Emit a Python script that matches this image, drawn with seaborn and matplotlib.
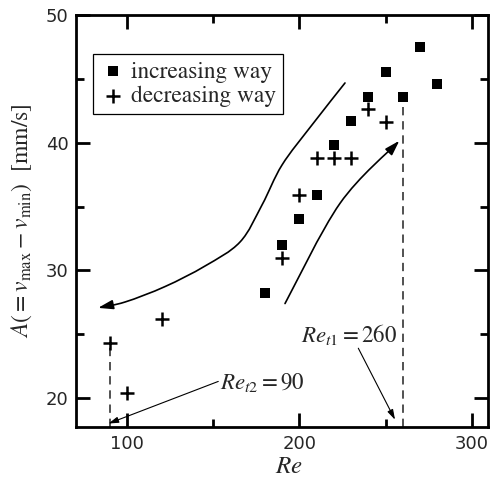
import matplotlib
matplotlib.use('Agg')
import matplotlib.pyplot as plt
import seaborn as sns
import numpy as np
from matplotlib.path import Path
from matplotlib.patches import FancyArrowPatch
from matplotlib.ticker import MultipleLocator

# ---- data ----
re_inc = [180, 190, 200, 210, 220, 230, 240, 250, 260, 270, 280]
a_inc = [28.2, 32.0, 34.0, 35.9, 39.8, 41.7, 43.6, 45.5, 43.6, 47.5, 44.6]
re_dec = [90, 100, 120, 190, 200, 210, 220, 230, 240, 250]
a_dec = [24.3, 20.4, 26.2, 31.0, 35.9, 38.8, 38.8, 38.8, 42.6, 41.6]

re_t1 = 260
re_t2 = 90
dash_top_t1 = 43.2
dash_top_t2 = 24.0

# guide curves (hysteresis direction arrows)
upper_x = [226.38, 207.25, 189.86, 178.26, 165.51, 145.22, 122.03, 98.84, 83.19]
upper_y = [44.675, 41.39, 38.25, 35.12, 32.22, 30.34, 28.73, 27.52, 27.06]
lower_x = [191.6, 223.5, 257.9]
lower_y = [27.4, 35.25, 40.15]

sns.set_style('ticks')
plt.rcParams['font.family'] = ['DejaVu Sans']
plt.rcParams['mathtext.fontset'] = 'stix'

fig = plt.figure(figsize=(4.9, 4.82), dpi=100)
ax = fig.add_axes([0.1551, 0.1141, 0.8408, 0.8548])

sns.scatterplot(x=re_inc, y=a_inc, marker='s', s=52, color='black',
                edgecolor='black', linewidth=0, ax=ax, label='increasing way', zorder=5)
sns.scatterplot(x=re_dec, y=a_dec, marker='+', s=110, color='black',
                linewidth=1.8, ax=ax, label='decreasing way', zorder=5)

ax.set_xlim(70.4, 309.3)
ax.set_ylim(17.73, 50)

# dashed threshold lines
ax.plot([re_t1, re_t1], [17.73, dash_top_t1], ls=(0, (5, 3.5)), color='#333333', lw=1.2)
ax.plot([re_t2, re_t2], [17.73, dash_top_t2], ls=(0, (5, 3.5)), color='#333333', lw=1.2)


def smooth_path(xs, ys):
    pts = np.column_stack([xs, ys]).astype(float)
    n = len(pts)
    verts = [pts[0]]
    codes = [Path.MOVETO]
    for i in range(n - 1):
        p0 = pts[max(i - 1, 0)]
        p1 = pts[i]
        p2 = pts[i + 1]
        p3 = pts[min(i + 2, n - 1)]
        c1 = p1 + (p2 - p0) / 6.0
        c2 = p2 - (p3 - p1) / 6.0
        verts += [c1, c2, p2]
        codes += [Path.CURVE4] * 3
    return Path(verts, codes)


style = '-|>,head_length=0.9,head_width=0.28'
for xs, ys in [(upper_x, upper_y), (lower_x, lower_y)]:
    arr = FancyArrowPatch(path=smooth_path(xs, ys), arrowstyle=style,
                          mutation_scale=10, lw=1.2, color='black',
                          transform=ax.transData)
    ax.add_patch(arr)

# annotations
ax.annotate('', xy=(255.4, 18.3), xytext=(234.1, 23.9),
            arrowprops=dict(arrowstyle='-|>,head_length=0.6,head_width=0.18',
                            mutation_scale=10, lw=0.8, color='black',
                            shrinkA=0, shrinkB=0))
ax.annotate('', xy=(89.2, 18.0), xytext=(152.9, 21.3),
            arrowprops=dict(arrowstyle='-|>,head_length=0.6,head_width=0.18',
                            mutation_scale=10, lw=0.8, color='black',
                            shrinkA=0, shrinkB=0))
ax.text(228.5, 25.0, r'$Re_{t1} = 260$', ha='center', va='center', fontsize=16.5)
ax.text(178.6, 21.25, r'$Re_{t2} = 90$', ha='center', va='center', fontsize=16.5)

# axes styling
ax.xaxis.set_major_locator(MultipleLocator(100))
ax.xaxis.set_minor_locator(MultipleLocator(50))
ax.yaxis.set_major_locator(MultipleLocator(10))
ax.yaxis.set_minor_locator(MultipleLocator(5))
ax.tick_params(which='both', direction='in', top=True, right=True, width=2,
               color='black')
ax.tick_params(which='major', length=10, labelsize=13, pad=5.5)
ax.tick_params(which='minor', length=6)
for sp in ax.spines.values():
    sp.set_linewidth(2)
    sp.set_color('black')

ax.set_xlabel(r'$Re$', fontsize=18, labelpad=1)
ax.xaxis.set_label_coords(0.517, -0.066)
ax.set_ylabel(r'$A(=v_{\max}-v_{\min})$  [mm/s]', fontsize=17,
              family='STIXGeneral', labelpad=8)

leg = ax.legend(loc='upper left', bbox_to_anchor=(0.041, 0.905),
                borderaxespad=0, fancybox=False, edgecolor='black',
                framealpha=1, prop=dict(family='STIXGeneral', size=16.8),
                handletextpad=0.25, borderpad=0.3, labelspacing=0.12,
                handlelength=1.1)
leg.get_frame().set_linewidth(0.9)

fig.savefig('out.png', dpi=100)
